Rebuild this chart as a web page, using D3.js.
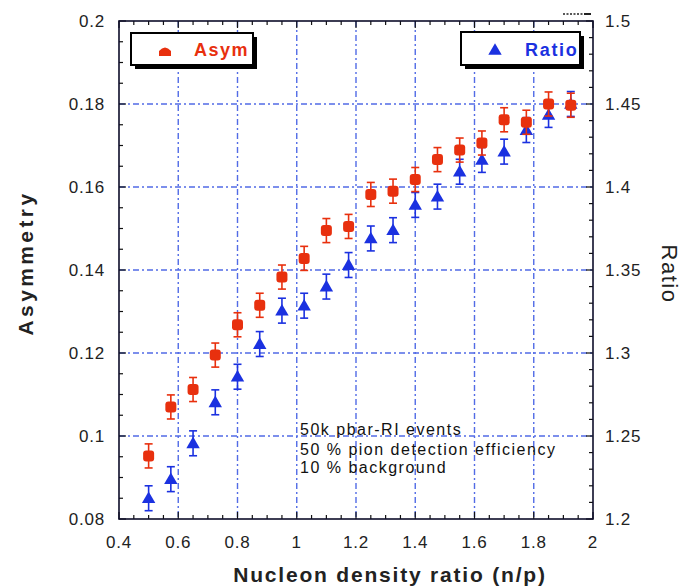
<!DOCTYPE html>
<html>
<head>
<meta charset="utf-8">
<script src="https://cdn.jsdelivr.net/npm/d3@7"></script>
<style>
  html, body { margin: 0; padding: 0; background: #fff; }
  svg { display: block; font-family: "Liberation Sans", Arial, Helvetica, sans-serif; }
</style>
</head>
<body>
<svg id="chart" width="681" height="587"></svg>
<script>
// Nucleon density ratio points (shared by both series)
const densityRatio = [0.5, 0.575, 0.65, 0.725, 0.8, 0.875, 0.95, 1.025, 1.1, 1.175,
                      1.25, 1.325, 1.4, 1.475, 1.55, 1.625, 1.7, 1.775, 1.85, 1.925];
// Asymmetry (left axis) with its statistical errors
const asymValues = [0.0952, 0.1070, 0.1112, 0.1195, 0.1268, 0.1315, 0.1383, 0.1428, 0.1495, 0.1505,
                    0.1582, 0.1590, 0.1618, 0.1666, 0.1689, 0.1706, 0.1762, 0.1756, 0.1800, 0.1797];
const asymErrors = [0.0029, 0.0029, 0.0029, 0.0029, 0.0029, 0.0029, 0.0029, 0.0029, 0.0029, 0.0029,
                    0.0029, 0.0029, 0.0029, 0.0029, 0.0029, 0.0029, 0.0029, 0.0029, 0.0029, 0.0029];
// Ratio (right axis) with its statistical errors
const ratioValues = [1.2125, 1.2240, 1.2456, 1.2703, 1.2857, 1.3054, 1.3255, 1.3285, 1.3400, 1.3530,
                     1.3690, 1.3740, 1.3892, 1.3942, 1.4092, 1.4163, 1.4213, 1.4343, 1.4434, 1.4500];
const ratioErrors = [0.0075, 0.0075, 0.0075, 0.0075, 0.0075, 0.0075, 0.0075, 0.0075, 0.0075, 0.0075,
                     0.0075, 0.0075, 0.0075, 0.0075, 0.0075, 0.0075, 0.0075, 0.0075, 0.0075, 0.0075];
// Tick labels
const xTicks = [0.4, 0.6, 0.8, 1, 1.2, 1.4, 1.6, 1.8, 2];
const asymTicks = [0.08, 0.1, 0.12, 0.14, 0.16, 0.18, 0.2];
const ratioTicks = [1.2, 1.25, 1.3, 1.35, 1.4, 1.45, 1.5];
const notes = ["50k pbar-RI events", "50 % pion detection efficiency", "10 % background"];

const RED = "#e8300e", BLUE = "#1b31e0", GRID = "#3452e2";
const box = { left: 119, right: 593, top: 21, bottom: 519 };

const svg = d3.select("#chart");
const x = d3.scaleLinear().domain([0.4, 2]).range([box.left, box.right]);
const yA = d3.scaleLinear().domain([0.08, 0.2]).range([box.bottom, box.top]);
const yR = d3.scaleLinear().domain([1.2, 1.5]).range([box.bottom, box.top]);

// dash-dot grid
const grid = svg.append("g").attr("stroke", GRID).attr("stroke-width", 1.4)
  .attr("stroke-dasharray", "6,3,2,3").attr("opacity", 0.85);
grid.selectAll("line.v").data(xTicks.slice(1, -1)).join("line")
  .attr("x1", d => x(d)).attr("x2", d => x(d)).attr("y1", box.top).attr("y2", box.bottom);
grid.selectAll("line.h").data(asymTicks.slice(1, -1)).join("line")
  .attr("class", "h")
  .attr("y1", d => yA(d)).attr("y2", d => yA(d)).attr("x1", box.left).attr("x2", box.right);

// inward ticks on all four sides
const range = (a, b, s) => d3.range(Math.round((b - a) / s) + 1).map(i => a + i * s);
const tickG = svg.append("g").attr("stroke", "#111").attr("stroke-width", 1.2);
range(0.4, 2, 0.05).forEach((v, i) => {
  const len = i % 4 === 0 ? 7 : 4;
  tickG.append("line").attr("x1", x(v)).attr("x2", x(v)).attr("y1", box.bottom).attr("y2", box.bottom - len);
  tickG.append("line").attr("x1", x(v)).attr("x2", x(v)).attr("y1", box.top).attr("y2", box.top + len);
});
range(0.08, 0.2, 0.005).forEach((v, i) => {
  const len = i % 4 === 0 ? 7 : 4;
  tickG.append("line").attr("y1", yA(v)).attr("y2", yA(v)).attr("x1", box.left).attr("x2", box.left + len);
});
range(1.2, 1.5, 0.01).forEach((v, i) => {
  const len = i % 5 === 0 ? 7 : 4;
  tickG.append("line").attr("y1", yR(v)).attr("y2", yR(v)).attr("x1", box.right).attr("x2", box.right - len);
});

// frame
svg.append("rect").attr("x", box.left).attr("y", box.top)
  .attr("width", box.right - box.left).attr("height", box.bottom - box.top)
  .attr("fill", "none").attr("stroke", "#0d0d2a").attr("stroke-width", 1.6);

// tick labels
const lblStyle = sel => sel.attr("font-size", 17).attr("fill", "#222").attr("letter-spacing", 0.8);
svg.append("g").selectAll("text").data(xTicks).join("text")
  .attr("x", d => x(d)).attr("y", 548).attr("text-anchor", "middle")
  .text(d => d3.format("")(d)).call(lblStyle);
svg.append("g").selectAll("text").data(asymTicks).join("text")
  .attr("x", 105).attr("y", d => yA(d) + 6).attr("text-anchor", "end")
  .text(d => d3.format("")(d)).call(lblStyle);
svg.append("g").selectAll("text").data(ratioTicks).join("text")
  .attr("x", 605).attr("y", d => yR(d) + 6).attr("text-anchor", "start")
  .text(d => d3.format("")(d)).call(lblStyle);

// axis titles
svg.append("text").attr("x", 390).attr("y", 582).attr("text-anchor", "middle")
  .attr("font-size", 21).attr("font-weight", "bold").attr("letter-spacing", 1.8).attr("fill", "#222")
  .text("Nucleon density ratio (n/p)");
svg.append("text").attr("transform", "translate(33,263) rotate(-90)").attr("text-anchor", "middle")
  .attr("font-size", 21).attr("font-weight", "bold").attr("letter-spacing", 3.4).attr("fill", "#222")
  .text("Asymmetry");
svg.append("text").attr("transform", "translate(662,274) rotate(90)").attr("text-anchor", "middle")
  .attr("font-size", 22).attr("letter-spacing", 1.5).attr("fill", "#222")
  .text("Ratio");

// note text
svg.append("g").selectAll("text").data(notes).join("text")
  .attr("x", 300).attr("y", (d, i) => [435, 455, 473][i])
  .attr("font-size", 16).attr("letter-spacing", 1.5).attr("fill", "#111").text(d => d);

// error bars + markers
function errorBars(g, ys, vals, errs, color) {
  const cap = 4;
  densityRatio.forEach((d, i) => {
    const cx = x(d), lo = ys(vals[i] - errs[i]), hi = ys(vals[i] + errs[i]);
    g.append("line").attr("x1", cx).attr("x2", cx).attr("y1", lo).attr("y2", hi);
    g.append("line").attr("x1", cx - cap).attr("x2", cx + cap).attr("y1", lo).attr("y2", lo);
    g.append("line").attr("x1", cx - cap).attr("x2", cx + cap).attr("y1", hi).attr("y2", hi);
  });
  g.attr("stroke", color).attr("stroke-width", 1.6);
}
const tri = d3.symbol().type(d3.symbolTriangle).size(78);

const ratioG = svg.append("g");
errorBars(ratioG.append("g"), yR, ratioValues, ratioErrors, BLUE);
ratioG.append("g").selectAll("path").data(densityRatio).join("path")
  .attr("d", tri).attr("fill", BLUE)
  .attr("transform", (d, i) => `translate(${x(d)},${yR(ratioValues[i]) + 1})`);

const asymG = svg.append("g");
errorBars(asymG.append("g"), yA, asymValues, asymErrors, RED);
asymG.append("g").selectAll("rect").data(densityRatio).join("rect")
  .attr("x", d => x(d) - 5.5).attr("y", (d, i) => yA(asymValues[i]) - 5.5)
  .attr("width", 11).attr("height", 11).attr("rx", 3).attr("fill", RED);

// legend boxes with drop shadow
function legendBox(x0, y0, w, h) {
  svg.append("rect").attr("x", x0 + 4).attr("y", y0 + 4).attr("width", w).attr("height", h).attr("fill", "#000");
  svg.append("rect").attr("x", x0).attr("y", y0).attr("width", w).attr("height", h)
    .attr("fill", "#fff").attr("stroke", "#000").attr("stroke-width", 2);
}
legendBox(131, 33, 122, 32);
svg.append("path").attr("d", "M159,56 L159,51 Q165,44 171,51 L171,56 Z").attr("fill", RED);
svg.append("text").attr("x", 194).attr("y", 56).attr("font-size", 18).attr("font-weight", "bold")
  .attr("letter-spacing", 1.5).attr("fill", RED).text("Asym");

legendBox(461, 32, 119, 33);
svg.append("path").attr("d", tri).attr("fill", BLUE).attr("transform", "translate(495,51)");
svg.append("text").attr("x", 525).attr("y", 56).attr("font-size", 18).attr("font-weight", "bold")
  .attr("letter-spacing", 1.7).attr("fill", BLUE).text("Ratio");

// small marker in the top-right corner
svg.append("line").attr("x1", 563).attr("x2", 584).attr("y1", 14).attr("y2", 14)
  .attr("stroke", "#222").attr("stroke-width", 1.5).attr("stroke-dasharray", "2,1.5");
svg.append("line").attr("x1", 584).attr("x2", 591).attr("y1", 14).attr("y2", 14)
  .attr("stroke", "#222").attr("stroke-width", 2);
</script>
</body>
</html>
